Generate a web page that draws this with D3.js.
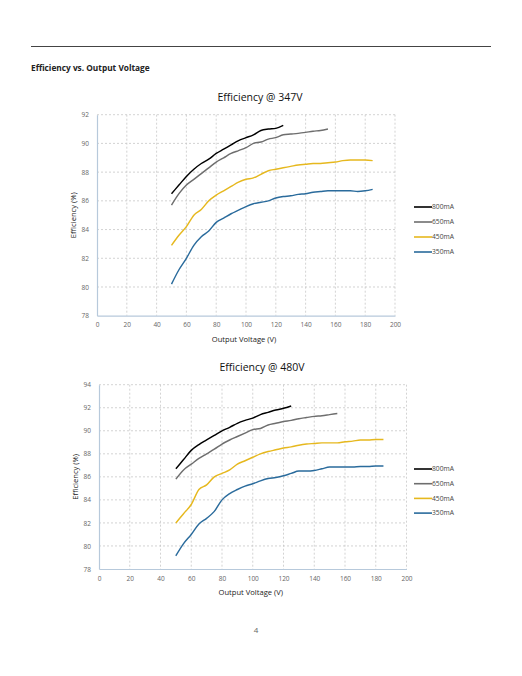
<!DOCTYPE html>
<html>
<head>
<meta charset="utf-8">
<script src="https://cdn.jsdelivr.net/npm/d3@7"></script>
<style>
  body { margin: 0; background: #fff; }
  svg { display: block; font-family: "Open Sans", Lato, sans-serif; }
</style>
</head>
<body>
<div id="page"></div>
<script>
// Efficiency vs output voltage, two input voltages

const seriesNames = ["800mA", "650mA", "450mA", "350mA"];
const seriesColors = ["#000000", "#6e6e6e", "#e6b81e", "#2a6b9c"];

// 347V input
const volts347_800 = [50, 55, 60, 65, 70, 75, 80, 85, 90, 95, 100, 105, 110, 115, 120, 125];
const eff347_800 = [86.5, 87.1, 87.7, 88.2, 88.6, 88.9, 89.3, 89.6, 89.9, 90.2, 90.4, 90.6, 90.9, 91.0, 91.05, 91.25];
const volts347_650 = [50, 55, 60, 65, 70, 75, 80, 85, 90, 95, 100, 105, 110, 115, 120, 125, 130, 135, 140, 145, 150, 155];
const eff347_650 = [85.7, 86.5, 87.1, 87.5, 87.9, 88.3, 88.7, 89.0, 89.3, 89.5, 89.7, 90.0, 90.1, 90.3, 90.4, 90.6, 90.65, 90.7, 90.77, 90.85, 90.9, 91.0];
const volts347_450 = [50, 55, 60, 65, 70, 75, 80, 85, 90, 95, 100, 105, 110, 115, 120, 125, 130, 135, 140, 145, 150, 155, 160, 165, 170, 175, 180, 185];
const eff347_450 = [82.9, 83.6, 84.2, 85.0, 85.4, 86.0, 86.4, 86.7, 87.0, 87.3, 87.5, 87.6, 87.85, 88.1, 88.2, 88.3, 88.4, 88.5, 88.55, 88.6, 88.6, 88.65, 88.7, 88.8, 88.85, 88.85, 88.85, 88.8];
const volts347_350 = volts347_450;
const eff347_350 = [80.2, 81.2, 82.0, 82.9, 83.5, 83.9, 84.5, 84.8, 85.1, 85.35, 85.6, 85.8, 85.9, 86.0, 86.2, 86.3, 86.35, 86.45, 86.5, 86.6, 86.65, 86.7, 86.7, 86.7, 86.7, 86.65, 86.7, 86.8];

// 480V input
const volts480_800 = volts347_800;
const eff480_800 = [86.7, 87.5, 88.3, 88.8, 89.2, 89.6, 90.0, 90.3, 90.65, 90.9, 91.1, 91.4, 91.6, 91.8, 91.95, 92.15];
const volts480_650 = volts347_650;
const eff480_650 = [85.8, 86.6, 87.1, 87.6, 88.0, 88.4, 88.85, 89.2, 89.5, 89.8, 90.1, 90.2, 90.5, 90.65, 90.8, 90.9, 91.05, 91.15, 91.25, 91.3, 91.4, 91.5];
const volts480_450 = volts347_450;
const eff480_450 = [82.0, 82.8, 83.6, 84.9, 85.3, 86.0, 86.3, 86.6, 87.1, 87.4, 87.7, 88.0, 88.2, 88.35, 88.5, 88.6, 88.75, 88.85, 88.9, 88.95, 88.95, 88.95, 89.05, 89.1, 89.2, 89.2, 89.25, 89.25];
const volts480_350 = volts347_450;
const eff480_350 = [79.15, 80.2, 81.0, 81.9, 82.4, 83.0, 84.0, 84.55, 84.9, 85.2, 85.4, 85.65, 85.85, 85.95, 86.1, 86.3, 86.5, 86.5, 86.55, 86.7, 86.85, 86.85, 86.85, 86.85, 86.9, 86.9, 86.95, 86.95];

const xTicks = [0, 20, 40, 60, 80, 100, 120, 140, 160, 180, 200];
const yTicks347 = [78, 80, 82, 84, 86, 88, 90, 92];
const yTicks480 = [78, 80, 82, 84, 86, 88, 90, 92, 94];

const W = 522, H = 676;
const svg = d3.select("#page").append("svg").attr("width", W).attr("height", H);

// page header
svg.append("line").attr("x1", 31).attr("x2", 491).attr("y1", 46.5).attr("y2", 46.5)
  .attr("stroke", "#444").attr("stroke-width", 1);
svg.append("text").attr("x", 31).attr("y", 71)
  .attr("font-size", 8.3).attr("font-weight", "bold").attr("fill", "#222")
  .text("Efficiency vs. Output Voltage");
svg.append("text").attr("x", 256).attr("y", 633).attr("text-anchor", "middle")
  .attr("font-size", 8).attr("fill", "#666").text("4");

function drawChart(cfg) {
  const x = d3.scaleLinear().domain([0, 200]).range([cfg.left, cfg.right]);
  const y = d3.scaleLinear().domain(d3.extent(cfg.yTicks)).range([cfg.bottom, cfg.top]);
  const g = svg.append("g");

  // title
  g.append("text").attr("x", cfg.titleX).attr("y", cfg.titleY).attr("text-anchor", "middle")
    .attr("font-size", 10.5).attr("fill", "#111").text(cfg.title);

  // grid
  g.selectAll(".vg").data(xTicks.slice(1)).enter().append("line")
    .attr("x1", d => x(d)).attr("x2", d => x(d))
    .attr("y1", cfg.top).attr("y2", cfg.bottom)
    .attr("stroke", "#c8c8c8").attr("stroke-width", 0.8).attr("stroke-dasharray", "2,2");
  g.selectAll(".hg").data(cfg.yTicks.slice(1)).enter().append("line")
    .attr("x1", cfg.left).attr("x2", cfg.right)
    .attr("y1", d => y(d)).attr("y2", d => y(d))
    .attr("stroke", "#c8c8c8").attr("stroke-width", 0.8).attr("stroke-dasharray", "2,2");

  // axes
  const xAxis = g.append("g").attr("transform", `translate(0,${cfg.bottom})`)
    .call(d3.axisBottom(x).tickValues(xTicks).tickSize(0).tickPadding(7));
  const yAxis = g.append("g").attr("transform", `translate(${cfg.left},0)`)
    .call(d3.axisLeft(y).tickValues(cfg.yTicks).tickSize(0).tickPadding(8));
  [xAxis, yAxis].forEach(a => {
    a.select(".domain").attr("stroke", "#b7c9db").attr("stroke-width", 1.2);
    a.selectAll("text").attr("font-size", 6.5).attr("fill", "#666")
      .attr("font-family", "\"Open Sans\", sans-serif");
  });

  // axis titles
  g.append("text").attr("x", (cfg.left + cfg.right) / 2 - 2).attr("y", cfg.bottom + 26)
    .attr("text-anchor", "middle").attr("font-size", 7.6).attr("fill", "#222")
    .text("Output Voltage (V)");
  g.append("text")
    .attr("transform", `translate(${cfg.left - 21},${(cfg.top + cfg.bottom) / 2}) rotate(-90)`)
    .attr("text-anchor", "middle").attr("font-size", 7.6).attr("fill", "#222")
    .text("Efficiency (%)");

  // series
  const line = d3.line().x(d => x(d[0])).y(d => y(d[1])).curve(d3.curveMonotoneX);
  cfg.series.forEach((s, i) => {
    const pts = d3.zip(s.v, s.e);
    g.append("path").datum(pts).attr("d", line)
      .attr("fill", "none").attr("stroke", seriesColors[i]).attr("stroke-width", 1.45)
      .attr("stroke-linejoin", "round");
  });

  // legend
  const lg = g.append("g");
  seriesNames.forEach((name, i) => {
    const ly = cfg.legendY + i * cfg.legendStep;
    lg.append("line").attr("x1", 414).attr("x2", 432).attr("y1", ly).attr("y2", ly)
      .attr("stroke", seriesColors[i]).attr("stroke-width", 1.6);
    lg.append("text").attr("x", 432).attr("y", ly + 2.3).attr("font-size", 6.7)
      .attr("fill", "#444").text(name);
  });
}

drawChart({
  title: "Efficiency @ 347V", titleX: 260, titleY: 101,
  left: 97, right: 395, top: 114.7, bottom: 315.7, yTicks: yTicks347,
  legendY: 207, legendStep: 15,
  series: [
    { v: volts347_800, e: eff347_800 },
    { v: volts347_650, e: eff347_650 },
    { v: volts347_450, e: eff347_450 },
    { v: volts347_350, e: eff347_350 }
  ]
});

drawChart({
  title: "Efficiency @ 480V", titleX: 262, titleY: 371,
  left: 99, right: 406.5, top: 384.7, bottom: 569, yTicks: yTicks480,
  legendY: 469, legendStep: 14.7,
  series: [
    { v: volts480_800, e: eff480_800 },
    { v: volts480_650, e: eff480_650 },
    { v: volts480_450, e: eff480_450 },
    { v: volts480_350, e: eff480_350 }
  ]
});
</script>
</body>
</html>
